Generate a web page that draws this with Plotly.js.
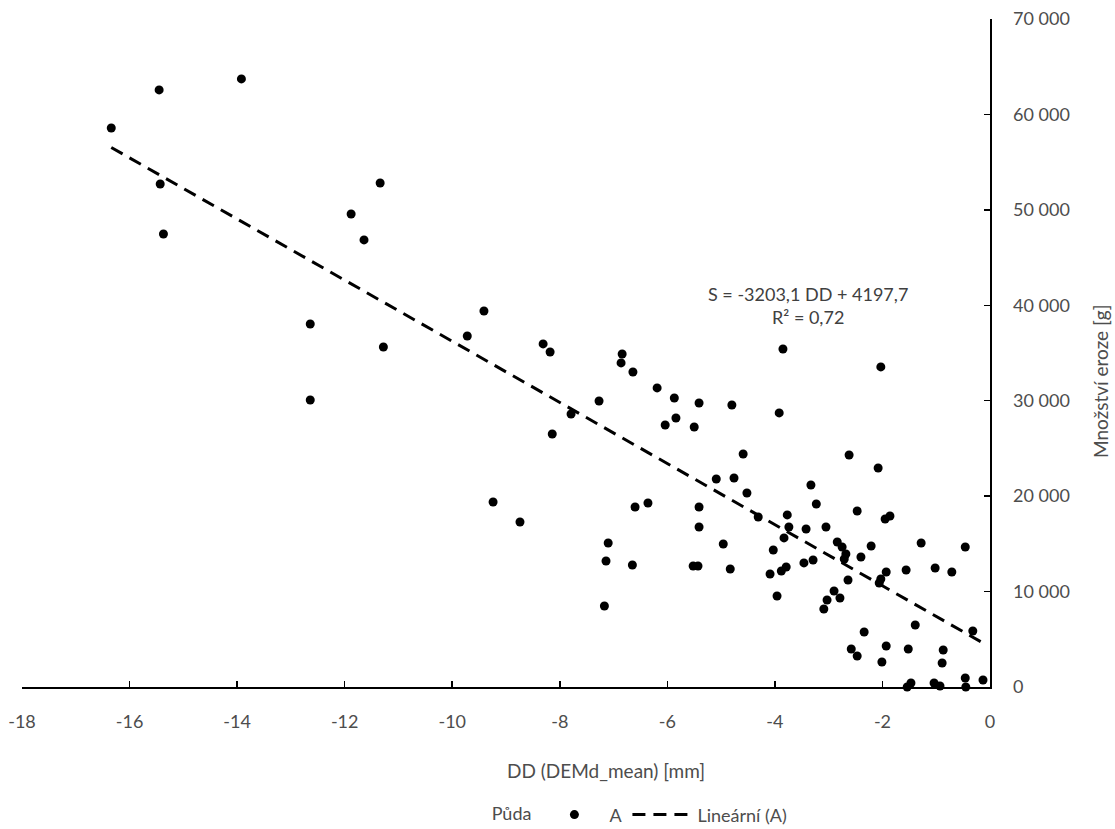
<!DOCTYPE html>
<html><head><meta charset="utf-8">
<script src="https://cdn.plot.ly/plotly-3.0.1.min.js"></script>
<style>html,body{margin:0;padding:0;background:#fff}#chart{width:1115px;height:829px}</style>
</head><body><div id="chart"></div>
<script>
// DD (DEMd_mean) [mm]
const ddValues = [
  -16.34, -15.45, -13.92, -15.43, -15.37, -12.64, -12.64, -11.88, -11.64, -11.34,
  -11.28, -9.41, -9.72, -8.31, -8.18, -6.84, -6.86, -6.64, -6.19, -5.87,
  -5.41, -7.27, -7.79, -5.84, -6.04, -5.50, -8.14, -9.24, -8.74, -6.36,
  -6.60, -5.41, -5.41, -7.10, -7.14, -6.65, -5.52, -5.43, -7.17, -3.85,
  -2.03, -4.80, -3.92, -4.59, -2.62, -2.08, -5.09, -4.76, -4.52, -4.31,
  -3.33, -3.23, -2.47, -1.95, -1.86, -3.77, -3.74, -3.83, -3.42, -3.05,
  -2.84, -2.75, -2.68, -2.71, -2.40, -2.21, -1.28, -0.46, -4.96, -4.03,
  -4.83, -4.09, -3.88, -3.79, -3.46, -3.29, -2.64, -2.06, -2.03, -1.93,
  -1.56, -1.02, -0.71, -3.96, -2.90, -3.03, -2.79, -3.09, -1.39, -0.32,
  -2.34, -2.58, -2.47, -1.93, -1.52, -0.87, -2.01, -0.89, -0.46, -0.13,
  -1.47, -1.54, -1.04, -0.93, -0.45
];
// Množství eroze [g]
const erosionValues = [
  58580, 62570, 63720, 52710, 47470, 38040, 30080, 49570, 46850, 52820,
  35630, 39400, 36780, 35950, 35110, 34900, 33960, 33010, 31340, 30290,
  29760, 29970, 28610, 28190, 27460, 27250, 26510, 19390, 17290, 19280,
  18860, 18860, 16770, 15090, 13200, 12790, 12680, 12680, 8490, 35420,
  33540, 29550, 28720, 24420, 24310, 22950, 21800, 21900, 20330, 17820,
  21170, 19180, 18440, 17610, 17920, 18030, 16770, 15620, 16560, 16770,
  15200, 14670, 13940, 13410, 13620, 14780, 15090, 14670, 14990, 14360,
  12370, 11840, 12160, 12580, 13000, 13310, 11210, 10900, 11320, 12050,
  12260, 12470, 12050, 9540, 10060, 9120, 9330, 8170, 6500, 5870,
  5760, 3980, 3250, 4300, 3980, 3880, 2620, 2520, 940, 730,
  420, 0, 420, 100, 0
];
const trendSlope = -3203.1;
const trendIntercept = 4197.7;
const seriesName = 'A';
const trendName = 'Lineární (A)';
const legendTitle = 'Půda';
const xTitle = 'DD (DEMd_mean) [mm]';
const yTitle = 'Množství eroze [g]';
const equationText = 'S = -3203,1 DD + 4197,7<br>R² = 0,72';
const xTickVals = [-18, -16, -14, -12, -10, -8, -6, -4, -2, 0];
const xTickText = ['-18', '-16', '-14', '-12', '-10', '-8', '-6', '-4', '-2', '0'];
const yTickVals = [0, 10000, 20000, 30000, 40000, 50000, 60000, 70000];
const yTickText = ['0', '10 000', '20 000', '30 000', '40 000', '50 000', '60 000', '70 000'];

const xMin = Math.min(...ddValues);
const xMax = Math.max(...ddValues);
const trendX = [xMin, xMax];
const trendY = trendX.map(x => trendSlope * x + trendIntercept);

const FONT = 'Lato, "Open Sans", sans-serif';
const TXT = '#4d4d4d';

const data = [
  {
    type: 'scatter', mode: 'markers', name: seriesName,
    x: ddValues, y: erosionValues,
    marker: {color: '#000000', size: 9},
    cliponaxis: false
  },
  {
    type: 'scatter', mode: 'lines', name: trendName,
    x: trendX, y: trendY,
    line: {color: '#000000', width: 3, dash: '13px,8px'}
  }
];

const layout = {
  width: 1115, height: 829, autosize: false,
  paper_bgcolor: '#ffffff', plot_bgcolor: '#ffffff',
  margin: {l: 22, r: 125, t: 19, b: 142},
  font: {family: FONT, size: 18, color: TXT},
  showlegend: true,
  legend: {
    orientation: 'h', xref: 'container', yref: 'container',
    x: 0.575, xanchor: 'center', y: 0.017, yanchor: 'middle',
    title: {text: legendTitle, side: 'left', font: {family: FONT, size: 18, color: TXT}},
    font: {family: FONT, size: 18, color: TXT},
    itemwidth: 60
  },
  xaxis: {
    range: [-18, 0], showgrid: false, zeroline: false,
    showline: true, linecolor: '#000000', linewidth: 1.5,
    ticks: 'inside', ticklen: 6, tickcolor: '#000000', tickwidth: 1.5,
    tickvals: xTickVals, ticktext: xTickText,
    tickfont: {family: FONT, size: 18, color: TXT},
    ticklabelstandoff: 18
  },
  yaxis: {
    range: [0, 70000], side: 'right', showgrid: false, zeroline: false,
    showline: true, linecolor: '#000000', linewidth: 1.5,
    ticks: 'inside', ticklen: 6, tickcolor: '#000000', tickwidth: 1.5,
    tickvals: yTickVals, ticktext: yTickText,
    tickfont: {family: FONT, size: 18, color: TXT},
    ticklabelstandoff: 18
  },
  annotations: [
    {
      x: -3.38, y: 40030, xref: 'x', yref: 'y', showarrow: false,
      text: equationText, align: 'center',
      font: {family: FONT, size: 18, color: '#404040'}
    },
    {
      xref: 'paper', yref: 'paper', x: 0.6033, y: -0.1243,
      xanchor: 'center', yanchor: 'middle', showarrow: false,
      text: xTitle, font: {family: FONT, size: 19, color: TXT}
    },
    {
      xref: 'paper', yref: 'paper', x: 1.1136, y: 0.458,
      xanchor: 'center', yanchor: 'middle', showarrow: false, textangle: -90,
      text: yTitle, font: {family: FONT, size: 19, color: TXT}
    }
  ]
};

Plotly.newPlot('chart', data, layout, {displayModeBar: false, staticPlot: true});
</script>
</body></html>
